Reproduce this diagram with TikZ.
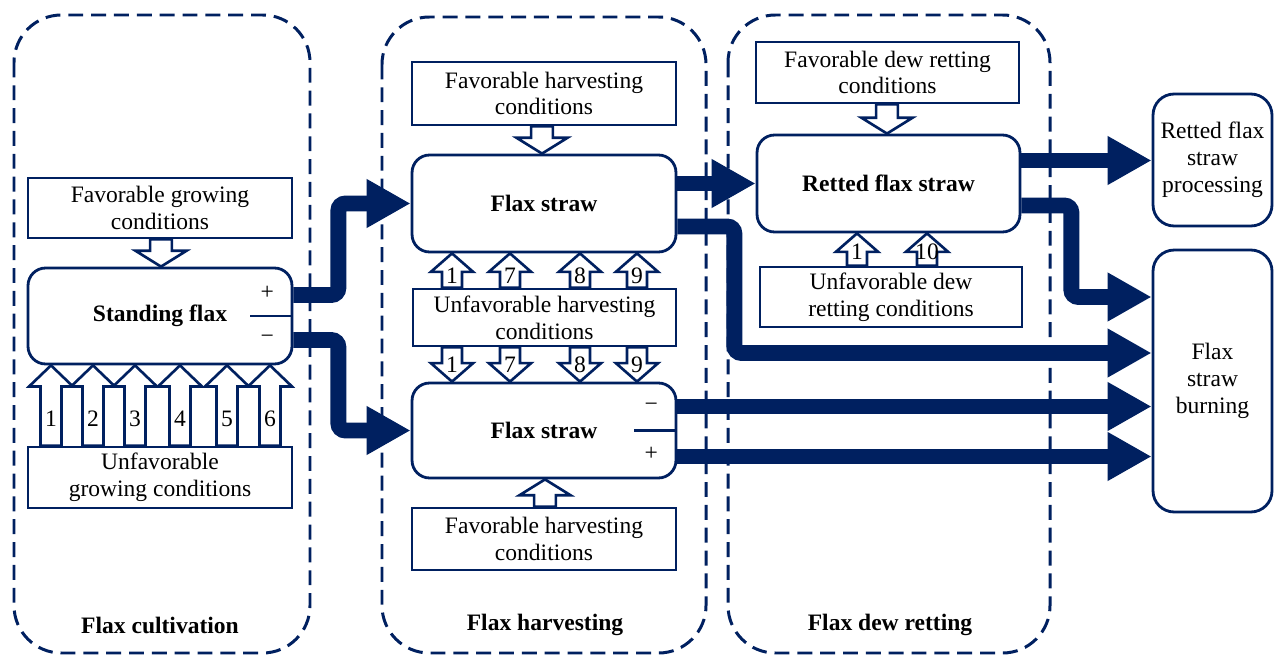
\documentclass[tikz,border=0pt]{standalone}
\usepackage{fontspec}
\setmainfont{Liberation Serif}
\usetikzlibrary{arrows.meta,calc}
\definecolor{navy}{RGB}{0,32,96}
\tikzset{
  hshaft/.store in=\hsw, hshaft=6pt,
  hhead/.store in=\hhw, hhead=12.5pt,
  hlength/.store in=\hlen, hlength=12pt,
  hollow/.style={draw=navy, line width=1.5pt, fill=white, line join=miter,
    to path={let \p1=(\tikztostart), \p2=(\tikztotarget),
      \n1={((\y2>\y1)*2-1)*\hlen} in
      (\x1-\hsw,\y1) -- (\x1-\hsw,\y2-\n1*1pt) -- (\x1-\hhw,\y2-\n1*1pt) -- (\x1,\y2)
      -- (\x1+\hhw,\y2-\n1*1pt) -- (\x1+\hsw,\y2-\n1*1pt) -- (\x1+\hsw,\y1) -- cycle}},
  rect/.style={draw=navy, line width=1.6pt, fill=white, align=center, inner sep=0pt},
  rbox/.style={rect, rounded corners=10pt},
  container/.style={draw=navy, line width=1.7pt, dash pattern=on 8.5pt off 4.5pt, rounded corners=27pt},
  big/.style={draw=navy, line width=9pt, rounded corners=4pt, -{Triangle[length=25pt,width=26pt]}},
  port/.style={draw=navy, line width=1.6pt},
  digit/.style={inner sep=0pt},
  grouplabel/.style={font=\fontsize{13.4}{15.3}\selectfont\bfseries}
}
\newcommand\OA[6]{%
  \draw[hollow] (#2 -| #1,0) to (#3 -| #1,0);
  \node[digit] (#6) at ($(#2 -| #1,0)+(0,#5)$) {#4};}
\newcommand\Ports[4]{%
  \draw[port] ($(#1.east)+(-43,0)$) -- (#1.east);
  \node (#1top) at ($(#1.east)+(-26,-23)$) {#2};
  \node (#1bot) at ($(#1.east)+(-26,23)$) {#3};}
\begin{document}
\begin{tikzpicture}[x=0.02cm,y=-0.02cm,
  every node/.style={font=\fontsize{13.4}{15.3}\selectfont, text=black}]
\useasboundingbox (0,0) rectangle (1274,655);

% containers
\draw[container] (14,15) rectangle (310,653);
\draw[container] (382,17) rectangle (706,653);
\draw[container] (728,15) rectangle (1050,653);
\node[grouplabel] (gl1) at (160,625) {Flax cultivation};
\node[grouplabel] (gl2) at (545,625) {Flax harvesting};
\node[grouplabel] (gl3) at (890,625) {Flax dew retting};

% boxes
\node[rect, minimum width=5.28cm, minimum height=1.2cm] (fgc) at (160,208) {Favorable growing\\conditions};
\node[rbox, minimum width=5.28cm, minimum height=1.92cm] (sf) at (160,316) {\textbf{Standing flax}};
\node[rect, minimum width=5.28cm, minimum height=1.22cm] (ugc) at (160,477.5) {Unfavorable\\growing conditions};

\node[rect, minimum width=5.28cm, minimum height=1.26cm] (fhc1) at (544,93.5) {Favorable harvesting\\conditions};
\node[rbox, minimum width=5.28cm, minimum height=1.94cm] (fs1) at (544,203.5) {\textbf{Flax straw}};
\node[rect, minimum width=5.26cm, minimum height=1.14cm] (uhc) at (544.5,317.5) {Unfavorable harvesting\\conditions};
\node[rbox, minimum width=5.28cm, minimum height=1.9cm] (fs2) at (544,430.5) {\textbf{Flax straw}};
\node[rect, minimum width=5.28cm, minimum height=1.24cm] (fhc2) at (544,539) {Favorable harvesting\\conditions};

\node[rect, minimum width=5.26cm, minimum height=1.22cm] (fdc) at (887.5,72.5) {Favorable dew retting\\conditions};
\node[rbox, minimum width=5.26cm, minimum height=1.94cm] (rfs) at (888.5,183.5) {\textbf{Retted flax straw}};
\node[rect, minimum width=5.24cm, minimum height=1.2cm] (udc) at (891,297) {Unfavorable dew\\retting conditions};

\node[rbox, rounded corners=12pt, minimum width=2.38cm, minimum height=2.64cm] (proc) at (1212.5,160) {Retted flax\\straw\\processing};
\node[rbox, rounded corners=12pt, minimum width=2.38cm, minimum height=5.24cm] (burn) at (1212.5,381) {Flax\\straw\\burning};

% ports
\Ports{sf}{+}{−}
\Ports{fs1}{+}{−}
\Ports{fs2}{−}{+}
\Ports{rfs}{+}{−}

% thick arrows
\coordinate (sfp) at ($(sf.east)+(0,-21)$);
\coordinate (sfm) at ($(sf.east)+(0,24)$);
\draw[big] (sfp) -- ++(45,0) |- (fs1.west);
\draw[big] (sfm) -- ++(45,0) |- (fs2.west);
\draw[big] (fs1.east |- rfs.west) -- (rfs.west);
\coordinate (fs1m) at ($(fs1.east)+(0,23)$);
\draw[big] (fs1m) -- ++(57,0) |- ($(burn.west)+(0,-28)$);
\coordinate (fs2m) at ($(fs2.east)+(0,-24)$);
\draw[big] (fs2m) -- (fs2m -| burn.west);
\coordinate (fs2p) at ($(fs2.east)+(0,26)$);
\draw[big] (fs2p) -- (fs2p -| burn.west);
\coordinate (rfsp) at ($(rfs.east)+(0,-23)$);
\draw[big] (rfsp) -- (rfsp -| proc.west);
\coordinate (rfsm) at ($(rfs.east)+(0,22)$);
\draw[big] (rfsm) -- ++(50,0) |- ($(burn.west)+(0,-84)$);

% hollow arrows: favorable
\begin{scope}[hshaft=6.2pt, hhead=14.5pt, hlength=9pt]
\draw[hollow] (fgc.south -| 161,0) to (sf.north -| 161,0);
\draw[hollow] (fhc1.south -| 542,0) to (fs1.north -| 542,0);
\draw[hollow] (fhc2.north -| 545,0) to (fs2.south -| 545,0);
\draw[hollow] (fdc.south -| 887,0) to (rfs.north -| 887,0);
\end{scope}

% unfavorable growing
\OA{51}{ugc.north}{sf.south}{1}{-27}{g1}
\OA{93}{ugc.north}{sf.south}{2}{-27}{g2}
\OA{135}{ugc.north}{sf.south}{3}{-27}{g3}
\OA{180}{ugc.north}{sf.south}{4}{-27}{g4}
\OA{227}{ugc.north}{sf.south}{5}{-27}{g5}
\OA{270}{ugc.north}{sf.south}{6}{-27}{g6}

% unfavorable harvesting and dew retting
\begin{scope}[hshaft=5.7pt, hhead=12pt, hlength=10.5pt]
\OA{452}{uhc.north}{fs1.south}{1}{-12}{hu1}
\OA{510}{uhc.north}{fs1.south}{7}{-12}{hu7}
\OA{580}{uhc.north}{fs1.south}{8}{-12}{hu8}
\OA{637}{uhc.north}{fs1.south}{9}{-12}{hu9}
\OA{452}{uhc.south}{fs2.north}{1}{17}{hd1}
\OA{510}{uhc.south}{fs2.north}{7}{17}{hd7}
\OA{580}{uhc.south}{fs2.north}{8}{17}{hd8}
\OA{637}{uhc.south}{fs2.north}{9}{17}{hd9}
\OA{857}{udc.north}{rfs.south}{1}{-14}{d1}
\OA{927}{udc.north}{rfs.south}{10}{-14}{d10}
\end{scope}
\end{tikzpicture}
\end{document}
